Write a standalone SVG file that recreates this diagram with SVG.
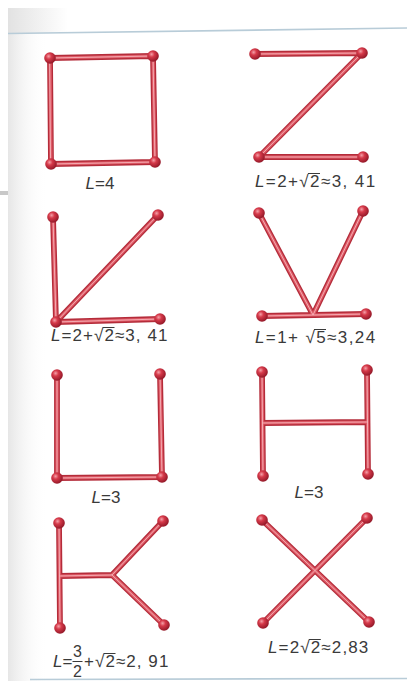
<svg xmlns="http://www.w3.org/2000/svg" width="407" height="681" viewBox="0 0 407 681">
<defs>
<radialGradient id="ball" cx="0.38" cy="0.35" r="0.7">
<stop offset="0" stop-color="#f4a0a8"/>
<stop offset="0.35" stop-color="#d63a4a"/>
<stop offset="1" stop-color="#8c1424"/>
</radialGradient>
<linearGradient id="topgray" x1="0" y1="0" x2="1" y2="0">
<stop offset="0" stop-color="#e2e2e2"/>
<stop offset="1" stop-color="#ffffff"/>
</linearGradient>
<linearGradient id="leftgray" x1="0" y1="0" x2="1" y2="0">
<stop offset="0" stop-color="#e6e6e6"/>
<stop offset="1" stop-color="#ffffff" stop-opacity="0"/>
</linearGradient>
<g id="b"><circle r="5.8" fill="url(#ball)"/></g>
</defs>
<style>
.o{stroke:#b42c3a;stroke-width:5.8;fill:none;stroke-linecap:round;stroke-linejoin:round}
.i{stroke:#de5a66;stroke-width:3.2;fill:none;stroke-linecap:round;stroke-linejoin:round}
.h{stroke:#f6b4ba;stroke-width:0.9;fill:none;stroke-linecap:round;stroke-linejoin:round}
.t{font-family:"Liberation Sans",Arial,sans-serif;font-size:17px;fill:#3a3a3a}
.f{font-size:16px}
.it{font-style:italic}
.v{stroke:#3a3a3a;stroke-width:1;fill:none}
</style>
<rect width="407" height="681" fill="#ffffff"/>
<rect x="8" y="8" width="60" height="25" fill="url(#topgray)"/>
<rect x="8" y="33" width="40" height="648" fill="url(#leftgray)"/>
<path d="M8 33.5 L407 28" stroke="#b8ccd8" stroke-width="1.6"/>
<rect x="0" y="191" width="8" height="4" fill="#c8c8c8"/>
<path d="M30 679.5 L407 678.5" stroke="#b8ccd8" stroke-width="1.6"/>

<g id="connectors">
<g id="rods-square">
<path class="o" d="M50 58 L153 56 L155 162 L51 164 Z"/>
<path class="i" d="M50 58 L153 56 L155 162 L51 164 Z"/>
<path class="h" d="M50 58 L153 56 L155 162 L51 164 Z"/>
</g>
<g id="rods-z">
<path class="o" d="M255 54 L362 53 L259 157 L363 157"/>
<path class="i" d="M255 54 L362 53 L259 157 L363 157"/>
<path class="h" d="M255 54 L362 53 L259 157 L363 157"/>
</g>
<g id="rods-l">
<path class="o" d="M53 217 L56 322 L160 319 M56 322 L158 215"/>
<path class="i" d="M53 217 L56 322 L160 319 M56 322 L158 215"/>
<path class="h" d="M53 217 L56 322 L160 319 M56 322 L158 215"/>
</g>
<g id="rods-v">
<path class="o" d="M259 213 L313 315 L363 211 M262 316 L366 314"/>
<path class="i" d="M259 213 L313 315 L363 211 M262 316 L366 314"/>
<path class="h" d="M259 213 L313 315 L363 211 M262 316 L366 314"/>
</g>
<g id="rods-u">
<path class="o" d="M57 375 L57 478 L162 477 L160 374"/>
<path class="i" d="M57 375 L57 478 L162 477 L160 374"/>
<path class="h" d="M57 375 L57 478 L162 477 L160 374"/>
</g>
<g id="rods-h">
<path class="o" d="M262 372 L263 476 M367 370 L368 474 M262.5 423 L367.5 422"/>
<path class="i" d="M262 372 L263 476 M367 370 L368 474 M262.5 423 L367.5 422"/>
<path class="h" d="M262 372 L263 476 M367 370 L368 474 M262.5 423 L367.5 422"/>
</g>
<g id="rods-k">
<path class="o" d="M59 523 L60 628 M59.5 576 L112 575 L163 521 M112 575 L164 625"/>
<path class="i" d="M59 523 L60 628 M59.5 576 L112 575 L163 521 M112 575 L164 625"/>
<path class="h" d="M59 523 L60 628 M59.5 576 L112 575 L163 521 M112 575 L164 625"/>
</g>
<g id="rods-x">
<path class="o" d="M262 520 L369 622 M367 518 L263 623"/>
<path class="i" d="M262 520 L369 622 M367 518 L263 623"/>
<path class="h" d="M262 520 L369 622 M367 518 L263 623"/>
</g>
</g>

<g id="square">
<use href="#b" x="50" y="58"/><use href="#b" x="153" y="56"/><use href="#b" x="155" y="162"/><use href="#b" x="51" y="164"/>
<text class="t" x="100" y="189" text-anchor="middle"><tspan class="it">L</tspan>=4</text>
</g>
<g id="z">
<use href="#b" x="255" y="54"/><use href="#b" x="362" y="53"/><use href="#b" x="259" y="157"/><use href="#b" x="363" y="157"/>
<text class="t" x="255" y="187" letter-spacing="1.4"><tspan class="it">L</tspan>=2+√2≈3, 41</text>
<line class="v" x1="308" y1="173.5" x2="320" y2="173.5"/>
</g>
<g id="lshape">
<use href="#b" x="53" y="217"/><use href="#b" x="158" y="215"/><use href="#b" x="56" y="322"/><use href="#b" x="160" y="319"/>
<text class="t" x="51" y="341" letter-spacing="1.06"><tspan class="it">L</tspan>=2+√2≈3, 41</text>
<line class="v" x1="102.5" y1="327.5" x2="114.5" y2="327.5"/>
</g>
<g id="v">
<use href="#b" x="259" y="213"/><use href="#b" x="363" y="211"/><use href="#b" x="262" y="316"/><use href="#b" x="366" y="314"/>
<text class="t" x="255" y="343" letter-spacing="1.4"><tspan class="it">L</tspan>=1+ √5≈3,24</text>
<line class="v" x1="314" y1="329.5" x2="326" y2="329.5"/>
</g>
<g id="u">
<use href="#b" x="57" y="375"/><use href="#b" x="160" y="374"/><use href="#b" x="57" y="478"/><use href="#b" x="162" y="477"/>
<text class="t" x="106" y="503" text-anchor="middle"><tspan class="it">L</tspan>=3</text>
</g>
<g id="h">
<use href="#b" x="262" y="372"/><use href="#b" x="367" y="370"/><use href="#b" x="263" y="476"/><use href="#b" x="368" y="474"/>
<text class="t" x="309" y="498" text-anchor="middle"><tspan class="it">L</tspan>=3</text>
</g>
<g id="k">
<use href="#b" x="59" y="523"/><use href="#b" x="163" y="521"/><use href="#b" x="60" y="628"/><use href="#b" x="164" y="625"/>
<text class="t" x="53" y="667"><tspan class="it">L</tspan>=</text>
<text class="t f" x="77.5" y="657" text-anchor="middle">3</text>
<text class="t f" x="77.5" y="677" text-anchor="middle">2</text>
<line class="v" x1="72.5" y1="661.5" x2="82.5" y2="661.5"/>
<text class="t" x="84" y="667" letter-spacing="1.06">+√2≈2, 91</text>
<line class="v" x1="103.5" y1="653.5" x2="115.5" y2="653.5"/>
</g>
<g id="x">
<use href="#b" x="262" y="520"/><use href="#b" x="367" y="518"/><use href="#b" x="263" y="623"/><use href="#b" x="369" y="622"/>
<text class="t" x="268" y="653" letter-spacing="1.14"><tspan class="it">L</tspan>=2√2≈2,83</text>
<line class="v" x1="308.8" y1="639.5" x2="320.8" y2="639.5"/>
</g>
</svg>
